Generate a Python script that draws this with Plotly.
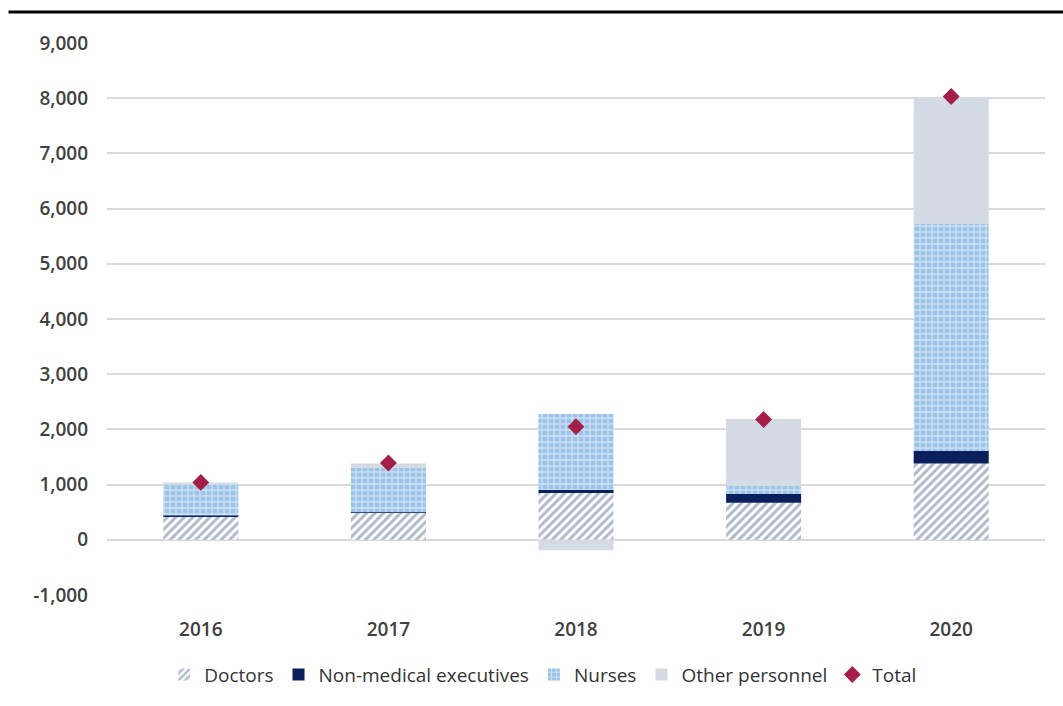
import plotly.graph_objects as go

years = ["2016", "2017", "2018", "2019", "2020"]
doctors = [420, 490, 850, 670, 1380]
non_medical = [20, 10, 50, 160, 230]
nurses = [560, 800, 1380, 150, 4110]
other = [40, 80, -190, 1210, 2300]
total = [1040, 1390, 2050, 2180, 8030]

y_ticks = [-1000, 0, 1000, 2000, 3000, 4000, 5000, 6000, 7000, 8000, 9000]
y_tick_labels = ["-1,000", "0", "1,000", "2,000", "3,000", "4,000", "5,000",
                 "6,000", "7,000", "8,000", "9,000"]

fig = go.Figure()
fig.add_trace(go.Bar(
    name="Doctors", x=years, y=doctors,
    marker=dict(color="white", line=dict(width=0),
                pattern=dict(shape="/", fgcolor="#5f7391", bgcolor="white", size=6, solidity=0.5)),
))
fig.add_trace(go.Bar(
    name="Non-medical executives", x=years, y=non_medical,
    marker=dict(color="#0b1f5c", line=dict(width=0)),
))
fig.add_trace(go.Bar(
    name="Nurses", x=years, y=nurses,
    marker=dict(color="#9cc3e8", line=dict(width=0),
                pattern=dict(shape="+", fgcolor="white", bgcolor="#9cc3e8", size=6, solidity=0.4)),
))
fig.add_trace(go.Bar(
    name="Other personnel", x=years, y=other,
    marker=dict(color="#d5dbe4", line=dict(width=0)),
))
fig.add_trace(go.Scatter(
    name="Total", x=years, y=total, mode="markers",
    marker=dict(symbol="diamond", color="#a51e48", size=13),
))

fig.update_layout(
    barmode="relative",
    bargap=0.6,
    width=1063, height=706,
    paper_bgcolor="white", plot_bgcolor="white",
    margin=dict(l=107, r=18, t=43, b=111, autoexpand=False),
    font=dict(family="Open Sans", size=19, color="#404040"),
    showlegend=True,
    legend=dict(orientation="h", x=0.465, xanchor="center", y=-0.11, yanchor="top",
                font=dict(size=19, color="#333333"), traceorder="normal", itemwidth=30),
    xaxis=dict(showgrid=False, showline=False, ticks="", ticklabelstandoff=21, automargin=False,
               tickfont=dict(size=19, weight=600)),
    yaxis=dict(range=[-1000, 9000], tickvals=y_ticks, ticktext=y_tick_labels, showgrid=True,
               gridcolor="#d9d9d9", gridwidth=1.5, zeroline=False, ticks="", ticklabelstandoff=18,
               automargin=False, tickfont=dict(size=19, weight=600)),
    shapes=[dict(type="line", xref="paper", yref="paper", x0=-0.105, x1=1.02, y0=1.0 + 31/552, y1=1.0 + 31/552,
                 line=dict(color="black", width=3))],
)

fig.write_html("out.html")
